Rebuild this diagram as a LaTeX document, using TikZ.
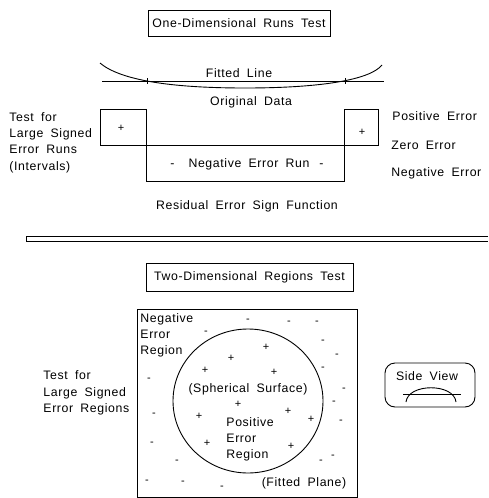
\documentclass[tikz,border=0pt]{standalone}
\usepackage{fontspec}
\setmainfont{Liberation Sans}[LetterSpace=5,WordSpace={1.8}]
\begin{document}
\begin{tikzpicture}[x=1pt,y=-1pt,line width=0.9pt,
  lbl/.style={inner sep=0pt,font=\fontsize{12.3}{16.3}\selectfont},
  lft/.style={lbl,anchor=west,align=left},
  titlebox/.style={draw,lbl},
  sgn/.style={inner sep=0pt,font=\fontsize{11}{11}\selectfont}]
\useasboundingbox (0,0) rectangle (488,498);

% ---------- One-dimensional part ----------
\node[titlebox,minimum width=182pt,minimum height=26pt] (t1) at (239,23) {One-Dimensional Runs Test};

% fitted line and original data
\coordinate (fl1) at (102,81);
\coordinate (fl2) at (384,81);
\draw (fl1) -- (fl2);
\draw (147,78) -- (147,84);
\draw (345,78) -- (345,84);
\draw (100,63) .. controls (120,80) and (170,88) .. (245,88)
               .. controls (320,88) and (370,80) .. (382,65);
\node[lbl] (fitted) at (239,73) {Fitted Line};
\node[lbl] (orig) at (251,102) {Original Data};

% sign function
\draw (100,109) rectangle (146,145);
\draw (344,109) rectangle (378,145);
\draw (146,145) rectangle (344,181);
\draw (100,145) -- (378,145);
\node[sgn] (p1) at (121,128) {+};
\node[sgn] (p2) at (362,132) {+};
\node[lbl] (negrun) at (247,164) {-\hspace{14pt}Negative Error Run\hspace{10pt}-};
\node[lbl] (resid) at (247,206) {Residual Error Sign Function};

\node[lft] (test1) at (9,142.5) {Test for\\Large Signed\\Error Runs\\(Intervals)};
\node[lft] (pos) at (392,116) {Positive Error};
\node[lft] (zero) at (391,145) {Zero Error};
\node[lft] (neg) at (391,173) {Negative Error};

% separator
\draw[line width=0.8pt] (488,236) -- (26,236) -- (26,241) -- (488,241);

% ---------- Two-dimensional part ----------
\node[titlebox,minimum width=207pt,minimum height=28pt] (t2) at (249.5,277) {Two-Dimensional Regions Test};

\draw (137,309) rectangle (357,497);
\draw (248,401) ellipse [x radius=75pt, y radius=72pt];

\node[lft] (negreg) at (140,335.5) {Negative\\Error\\Region};
\node[lbl] (sph) at (248,389) {(Spherical Surface)};
\node[lft] (posreg) at (226,439.5) {Positive\\Error\\Region};
\node[lbl] (plane) at (304,483) {(Fitted Plane)};
\node[lft] (test2) at (43,393) {Test for\\Large Signed\\Error Regions};

% plus signs
\foreach \px/\py [count=\i] in {266/347,231/358,205/370,274/372,238/404,199/416,288/411,311/419,207/443,291/446}
  \node[sgn] (pl\i) at (\px,\py) {+};
% minus signs
\foreach \mx/\my [count=\i] in {248/321,289/323,317/323,206/333,323/342,337/356,323/369,149/380,344/390,334/403,154/415,341/422,152/444,177/462,321/462,333/457,147/482,183/483,222/488}
  \node[sgn] (mi\i) at (\mx,\my) {-};

% side view
\draw[rounded corners=10pt] (385,363) rectangle (475,407);
\node[lbl] (side) at (427,376) {Side View};
\draw (403,394) -- (461,394);
\draw (406,402) .. controls (408,383) and (454,383) .. (456,402);
\end{tikzpicture}
\end{document}
